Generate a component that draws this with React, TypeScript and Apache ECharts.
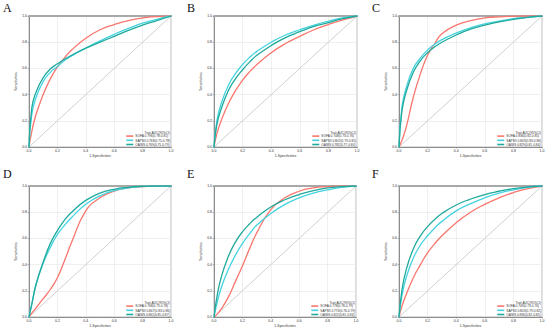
import React, { useEffect, useRef } from "react";
import * as echarts from "echarts";

const fpr = [0, 0.02, 0.05, 0.1, 0.15, 0.2, 0.25, 0.3, 0.4, 0.5, 0.6, 0.7, 0.8, 0.9, 1];
const tickLabels = ["0.0", "0.2", "0.4", "0.6", "0.8", "1.0"];
const panelLetters = ["A", "B", "C", "D", "E", "F"];

const aRed = [0, 0.12, 0.25, 0.40, 0.52, 0.61, 0.68, 0.74, 0.83, 0.895, 0.935, 0.965, 0.985, 0.996, 1];
const aCyan = [0, 0.25, 0.38, 0.50, 0.57, 0.615, 0.66, 0.695, 0.755, 0.81, 0.86, 0.905, 0.945, 0.975, 1];
const aTeal = [0, 0.30, 0.42, 0.53, 0.595, 0.635, 0.67, 0.70, 0.755, 0.80, 0.845, 0.89, 0.93, 0.965, 1];

const bRed = [0, 0.10, 0.20, 0.33, 0.43, 0.51, 0.575, 0.63, 0.72, 0.79, 0.845, 0.895, 0.935, 0.97, 1];
const bCyan = [0, 0.20, 0.33, 0.47, 0.56, 0.63, 0.685, 0.73, 0.80, 0.855, 0.895, 0.93, 0.96, 0.985, 1];
const bTeal = [0, 0.17, 0.29, 0.43, 0.52, 0.59, 0.65, 0.70, 0.775, 0.835, 0.88, 0.92, 0.95, 0.98, 1];

const cRed = [0, 0.05, 0.15, 0.38, 0.56, 0.70, 0.79, 0.865, 0.93, 0.965, 0.985, 0.994, 0.998, 1, 1];
const cCyan = [0, 0.30, 0.45, 0.60, 0.68, 0.74, 0.785, 0.82, 0.87, 0.91, 0.94, 0.96, 0.98, 0.99, 1];
const cTeal = [0, 0.27, 0.42, 0.57, 0.66, 0.72, 0.765, 0.80, 0.855, 0.90, 0.93, 0.955, 0.975, 0.99, 1];

const dRed = [0, 0.03, 0.07, 0.14, 0.21, 0.30, 0.43, 0.57, 0.81, 0.91, 0.96, 0.985, 0.995, 1, 1];
const dCyan = [0, 0.10, 0.25, 0.41, 0.53, 0.63, 0.70, 0.76, 0.86, 0.925, 0.965, 0.985, 0.996, 1, 1];
const dTeal = [0, 0.10, 0.25, 0.42, 0.56, 0.66, 0.74, 0.80, 0.89, 0.945, 0.975, 0.99, 0.998, 1, 1];

const eRed = [0, 0.02, 0.06, 0.15, 0.27, 0.39, 0.52, 0.64, 0.82, 0.91, 0.96, 0.985, 0.995, 1, 1];
const eCyan = [0, 0.10, 0.22, 0.36, 0.47, 0.56, 0.635, 0.70, 0.79, 0.86, 0.91, 0.945, 0.97, 0.99, 1];
const eTeal = [0, 0.15, 0.30, 0.46, 0.57, 0.65, 0.71, 0.76, 0.84, 0.895, 0.935, 0.965, 0.985, 0.995, 1];

const fRed = [0, 0.08, 0.17, 0.30, 0.40, 0.49, 0.56, 0.62, 0.72, 0.80, 0.86, 0.91, 0.95, 0.98, 1];
const fCyan = [0, 0.16, 0.30, 0.45, 0.55, 0.62, 0.68, 0.73, 0.81, 0.865, 0.91, 0.945, 0.97, 0.99, 1];
const fTeal = [0, 0.20, 0.36, 0.52, 0.62, 0.69, 0.745, 0.79, 0.855, 0.90, 0.935, 0.96, 0.98, 0.993, 1];

const namesA = ["SOFA 0.796(0.78-0.81)", "SAPSII 0.768(0.75-0.78)", "OASIS 0.769(0.75-0.79)"];
const namesB = ["SOFA 0.748(0.73-0.76)", "SAPSII 0.802(0.79-0.81)", "OASIS 0.782(0.77-0.80)"];
const namesC = ["SOFA 0.836(0.82-0.85)", "SAPSII 0.843(0.83-0.86)", "OASIS 0.829(0.81-0.84)"];
const namesD = ["SOFA 0.768(0.75-0.78)", "SAPSII 0.847(0.83-0.86)", "OASIS 0.862(0.85-0.87)"];
const namesE = ["SOFA 0.778(0.76-0.79)", "SAPSII 0.776(0.76-0.79)", "OASIS 0.822(0.81-0.84)"];
const namesF = ["SOFA 0.749(0.73-0.76)", "SAPSII 0.803(0.79-0.82)", "OASIS 0.836(0.82-0.85)"];

const legendTitle = "Trait AUC(95%CI)";
const xName = "1-Specificities";
const yName = "Sensitivities";

const COLORS = ["#F8766D", "#45D3E0", "#1FAA9C"];

const panels = [
  { names: namesA, curves: [aRed, aCyan, aTeal] },
  { names: namesB, curves: [bRed, bCyan, bTeal] },
  { names: namesC, curves: [cRed, cCyan, cTeal] },
  { names: namesD, curves: [dRed, dCyan, dTeal] },
  { names: namesE, curves: [eRed, eCyan, eTeal] },
  { names: namesF, curves: [fRed, fCyan, fTeal] },
];

const gridBoxes = [
  { left: 29, top: 16, width: 142, height: 131 },
  { left: 214, top: 16, width: 143, height: 131 },
  { left: 399, top: 16, width: 143, height: 131 },
  { left: 29, top: 186, width: 142, height: 131 },
  { left: 214, top: 186, width: 142, height: 131 },
  { left: 399, top: 186, width: 143, height: 131 },
];
const letterPos = [
  { x: 3, y: 2 },
  { x: 187, y: 2 },
  { x: 372, y: 2 },
  { x: 3, y: 168 },
  { x: 187, y: 168 },
  { x: 372, y: 168 },
];

export default function App() {
  const ref = useRef<HTMLDivElement>(null);
  useEffect(() => {
    if (!ref.current) return;
    const chart = echarts.init(ref.current, null, { renderer: "svg" });
    const grid: any[] = [];
    const xAxis: any[] = [];
    const yAxis: any[] = [];
    const series: any[] = [];
    const legend: any[] = [];
    const title: any[] = [];
    const graphic: any[] = [];
    const labelFmt = (v: number) => tickLabels[Math.round(v * 5)] ?? "";
    panels.forEach((p, i) => {
      const g = gridBoxes[i];
      grid.push({ ...g, show: true, borderColor: "#aaaaaa", borderWidth: 0.8, backgroundColor: "#ffffff" });
      xAxis.push({
        type: "value", gridIndex: i, min: 0, max: 1, interval: 0.2,
        name: xName, nameLocation: "middle", nameGap: 7,
        nameTextStyle: { fontSize: 3.5, color: "#333", fontFamily: "Liberation Sans" },
        axisLine: { show: true, lineStyle: { color: "#777", width: 0.8 } },
        axisTick: { show: true, length: 1.5, lineStyle: { color: "#777", width: 0.5 } },
        axisLabel: { fontSize: 3.5, color: "#333", margin: 2, formatter: labelFmt },
        splitLine: { show: true, lineStyle: { color: "#e6e6e6", width: 0.6 } },
      });
      xAxis.push({
        type: "value", gridIndex: i, min: 0, max: 1, position: "top",
        axisLine: { show: true, lineStyle: { color: "#a8a8a8", width: 2 } },
        axisTick: { show: false }, axisLabel: { show: false }, splitLine: { show: false },
      });
      yAxis.push({
        type: "value", gridIndex: i, min: 0, max: 1, interval: 0.2,
        name: yName, nameLocation: "middle", nameGap: 10, nameRotate: 90,
        nameTextStyle: { fontSize: 3.5, color: "#333", fontFamily: "Liberation Sans" },
        axisLine: { show: true, lineStyle: { color: "#777", width: 0.8 } },
        axisTick: { show: true, length: 1.5, lineStyle: { color: "#777", width: 0.5 } },
        axisLabel: { fontSize: 3.5, color: "#333", margin: 2, formatter: labelFmt },
        splitLine: { show: true, lineStyle: { color: "#e6e6e6", width: 0.6 } },
      });
      series.push({
        type: "line", xAxisIndex: i * 2, yAxisIndex: i, data: [[0, 0], [1, 1]],
        showSymbol: false, silent: true, lineStyle: { color: "#c4c4c4", width: 0.8 },
      });
      p.curves.forEach((c, k) => {
        series.push({
          name: p.names[k], type: "line", xAxisIndex: i * 2, yAxisIndex: i,
          data: fpr.map((x, j) => [x, c[j]]),
          smooth: 0.5, showSymbol: false,
          lineStyle: { color: COLORS[k], width: 1.3, cap: "round", join: "round" },
          itemStyle: { color: COLORS[k] },
          z: 3 + k,
        });
      });
      const right = 550 - (g.left + g.width) + 1;
      const bottom = 332 - (g.top + g.height) + 1;
      legend.push({
        data: p.names, orient: "vertical", right, bottom,
        icon: "rect", itemWidth: 7, itemHeight: 1.6, itemGap: 1.2,
        textStyle: { fontSize: 3.2, color: "#333", padding: [0, 0, 0, -3] },
        padding: 0, selectedMode: false,
      });
      graphic.push({
        type: "text", right, top: g.top + g.height - 16,
        style: { text: legendTitle, fontSize: 3.2, fill: "#333", fontFamily: "Liberation Sans" },
      });
      title.push({
        text: panelLetters[i], left: letterPos[i].x, top: letterPos[i].y, padding: 0,
        textStyle: { fontSize: 12, fontWeight: "normal", color: "#111", fontFamily: "Liberation Serif" },
      });
    });
    chart.setOption({
      animation: false,
      backgroundColor: "#ffffff",
      title, grid, xAxis, yAxis, series, legend, graphic,
    });
    return () => chart.dispose();
  }, []);
  return (
    <div
      ref={ref}
      style={{ position: "fixed", left: 0, top: 0, width: 550, height: 332 }}
    />
  );
}
